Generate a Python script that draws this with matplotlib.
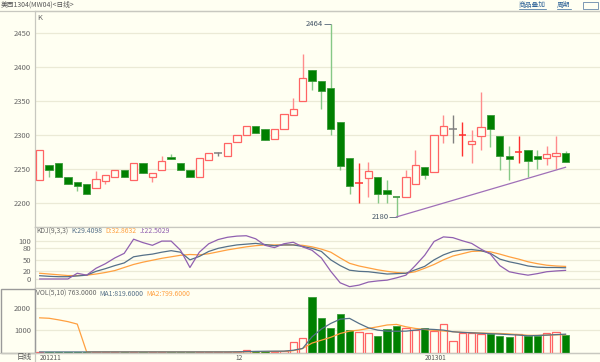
import matplotlib
matplotlib.use('Agg')
import matplotlib.pyplot as plt
from matplotlib.patches import Rectangle

plt.rcParams['font.family'] = ['Noto Sans CJK SC', 'DejaVu Sans']

# candles (daily)
opens = [2235, 2256, 2260, 2239, 2231, 2229, 2223, 2233, 2239, 2249,
         2234, 2260, 2239, 2249, 2268, 2260, 2249, 2239, 2264, 2274,
         2270, 2290, 2300, 2314, 2309, 2295, 2309, 2330, 2350, 2396,
         2380, 2369, 2320, 2266, 2230, 2237, 2239, 2219, 2209, 2209,
         2229, 2253, 2246, 2300, 2309, 2300, 2287, 2299, 2330, 2299,
         2269, 2275, 2279, 2269, 2267, 2269, 2274]
closes = [2279, 2249, 2239, 2229, 2225, 2213, 2236, 2241, 2249, 2238,
          2260, 2245, 2244, 2262, 2265, 2249, 2238, 2266, 2274, 2274,
          2289, 2300, 2314, 2304, 2293, 2309, 2331, 2339, 2385, 2380,
          2365, 2309, 2255, 2226, 2230, 2248, 2214, 2214, 2209, 2239,
          2256, 2241, 2300, 2314, 2309, 2300, 2292, 2312, 2309, 2270,
          2265, 2275, 2262, 2265, 2272, 2274, 2261]
highs = [2279, 2256, 2260, 2239, 2231, 2229, 2248, 2241, 2249, 2249,
         2260, 2260, 2244, 2270, 2272, 2260, 2249, 2266, 2274, 2275,
         2289, 2300, 2314, 2314, 2309, 2309, 2331, 2355, 2419, 2396,
         2380, 2464, 2320, 2266, 2260, 2261, 2239, 2234, 2209, 2249,
         2279, 2253, 2300, 2330, 2330, 2320, 2308, 2364, 2330, 2299,
         2284, 2299, 2279, 2279, 2284, 2299, 2277]
lows = [2235, 2239, 2239, 2229, 2218, 2213, 2223, 2229, 2239, 2238,
        2234, 2245, 2232, 2249, 2265, 2249, 2238, 2239, 2264, 2270,
        2270, 2290, 2300, 2304, 2293, 2295, 2309, 2330, 2350, 2366,
        2339, 2300, 2249, 2214, 2200, 2209, 2200, 2200, 2180, 2209,
        2229, 2236, 2246, 2289, 2289, 2270, 2260, 2279, 2283, 2249,
        2234, 2260, 2239, 2250, 2256, 2250, 2261]
# open == close days: colour used by the terminal
doji_kind = {19: 'gray', 34: 'red', 38: 'green', 44: 'gray', 45: 'red', 51: 'red'}
vol_red = {19, 34, 44, 45, 51}

volumes = [30, 25, 30, 20, 25, 30, 20, 25, 20, 25,
           30, 20, 25, 20, 25, 20, 25, 30, 25, 20,
           30, 25, 90, 60, 70, 40, 50, 450, 630, 2466,
           1540, 1090, 1704, 1000, 910, 850, 717, 1058, 1165, 1076,
           987, 1076, 956, 1256, 493, 879, 879, 820, 820, 717,
           673, 807, 747, 747, 865, 897, 763]
vol_ma1 = [25, 25, 25, 25, 25, 25, 25, 25, 25, 25,
           25, 25, 25, 25, 25, 25, 25, 25, 25, 25,
           25, 30, 40, 50, 55, 60, 60, 100, 180, 700,
           1050, 1300, 1490, 1525, 1300, 1103, 1000, 955, 950, 955,
           1000, 1050, 1030, 1000, 926, 900, 880, 860, 840, 822,
           800, 780, 747, 760, 777, 800, 819.6]
vol_ma2 = [1550, 1530, 1460, 1380, 1270, 25, 25, 25, 25, 25,
           25, 25, 25, 25, 25, 25, 25, 25, 25, 25,
           25, 25, 30, 35, 40, 45, 50, 80, 180, 420,
           550, 680, 850, 955, 1000, 1076, 1150, 1230, 1256, 1150,
           1076, 1030, 987, 960, 930, 900, 890, 870, 860, 852,
           830, 800, 770, 765, 780, 790, 799.6]

kdj_k = [8.6, 7, 6, 6, 8, 10, 20, 27, 35, 42,
         58, 62, 65, 70, 74, 70, 50, 59, 72, 80,
         85, 89, 91, 93, 90, 87, 89, 89, 85, 80,
         72, 50, 35, 23, 20, 19, 16, 13, 14, 15,
         24, 33, 50, 63, 72, 76, 77, 74, 67, 52,
         45, 40, 34, 31, 30, 30, 29.4098]
kdj_d = [15, 13, 11, 9, 9, 10, 13, 17, 22, 30,
         38, 44, 49, 54, 58, 62, 64, 63, 66, 71,
         76, 80, 84, 87, 89, 89, 89, 89, 88, 84,
         78, 70, 55, 41, 34, 29, 24, 20, 17, 15,
         19, 28, 38, 50, 60, 66, 72, 73, 71, 65,
         58, 52, 45, 40, 36, 34, 32.8632]
kdj_j = [0, 0, 0, 0, 15, 10, 28, 40, 55, 67,
         104, 95, 88, 99, 99, 75, 30, 70, 92, 103,
         109, 112, 113, 105, 88, 82, 92, 96, 84, 75,
         55, 20, -10, -20, -16, -8, -5, -3, 3, 10,
         35, 62, 98, 110, 108, 100, 93, 78, 65, 35,
         19, 14, 10, 14, 19, 21, 22.5029]

trend_x = [38, 56]
trend_y = [2180, 2253]
date_labels = [(0, '201211'), (20.8, '12'), (41, '201301')]

price_ticks = [2200, 2250, 2300, 2350, 2400, 2450]
kdj_ticks = [0, 20, 50, 80, 100]
vol_ticks = [1000, 2000]

# colours
bg = '#fffff2'
grid_c = '#ebead6'
frame_c = '#c8c8c0'
red = '#ff6464'
red_wick = '#ff8c8c'
green = '#008000'
green_wick = '#86c886'
txt_c = '#666666'
k_c = '#557088'
d_c = '#ffa040'
j_c = '#9060b0'

W, H = 600, 362


def fx(x):
    return x / W


def fy(y):
    return 1 - y / H


fig = plt.figure(figsize=(6, 3.62), dpi=100, facecolor=bg)

left_px = 34.5
xlo = -(39.7 - left_px) / 9.39
xhi = xlo + (W - left_px) / 9.39
fs = 5.5
fs_small = 4.9


def setup(ax, ylim, ticks):
    ax.set_facecolor(bg)
    ax.set_xlim(xlo, xhi)
    ax.set_ylim(*ylim)
    ax.set_yticks(ticks)
    ax.set_xticks([])
    ax.tick_params(axis='y', length=0, pad=2.5, labelsize=fs, labelcolor=txt_c)
    for t in ticks:
        ax.axhline(t, color=grid_c, lw=0.9, zorder=0)
    ax.spines['right'].set_visible(False)
    for s in ['left', 'top', 'bottom']:
        ax.spines[s].set_color(frame_c)
        ax.spines[s].set_linewidth(0.9)


# ---- price panel ----
ax_k = fig.add_axes([fx(left_px), fy(226.7), 1 - fx(left_px), (226.7 - 11) / H])
setup(ax_k, (2165.6, 2482.8), price_ticks)

n = len(opens)
idx = list(range(n))
bw = 0.78
for i in idx:
    o, c, h, l = opens[i], closes[i], highs[i], lows[i]
    if i in doji_kind:
        kc = {'red': '#ff3030', 'green': '#2a8a2a', 'gray': '#808080'}[doji_kind[i]]
        ax_k.vlines(i, l, h, color=kc if doji_kind[i] != 'green' else green_wick, lw=1.0, zorder=2)
        ax_k.hlines(o, i - bw / 2, i + bw / 2, color=kc, lw=1.1, zorder=3)
    elif c > o:
        ax_k.vlines(i, l, o, color=red_wick, lw=1.0, zorder=2)
        ax_k.vlines(i, c, h, color=red_wick, lw=1.0, zorder=2)
        ax_k.bar(i, c - o, bottom=o, width=bw, facecolor=bg, edgecolor=red, lw=0.9, zorder=3)
    else:
        ax_k.vlines(i, l, h, color=green_wick, lw=1.0, zorder=2)
        ax_k.bar(i, o - c, bottom=c, width=bw, facecolor=green, edgecolor='#3a9a3a', lw=0.6, zorder=3)

ax_k.plot(trend_x, trend_y, color='#a070b8', lw=0.9, zorder=4)

# high / low markers
hi_i = highs.index(max(highs))
lo_i = lows.index(min(lows))
ax_k.hlines(max(highs), hi_i - 0.75, hi_i, color='#556677', lw=0.6)
ax_k.text(hi_i - 0.8, max(highs), str(max(highs)), ha='right', va='center', fontsize=fs, color='#445566')
ax_k.hlines(min(lows), lo_i - 0.75, lo_i, color='#556677', lw=0.6)
ax_k.text(lo_i - 0.8, min(lows), str(min(lows)), ha='right', va='center', fontsize=fs, color='#445566')
ax_k.text(0.004, 0.985, 'K', transform=ax_k.transAxes, ha='left', va='top', fontsize=fs, color=txt_c)

# ---- KDJ panel ----
ax_j = fig.add_axes([fx(left_px), fy(288.3), 1 - fx(left_px), (288.3 - 226.7) / H])
setup(ax_j, (-24.3, 136.6), kdj_ticks)
ax_j.plot(idx, kdj_d, color=d_c, lw=0.9)
ax_j.plot(idx, kdj_k, color=k_c, lw=0.9)
ax_j.plot(idx, kdj_j, color=j_c, lw=0.9)

# ---- volume panel ----
ax_v = fig.add_axes([fx(left_px), fy(352.5), 1 - fx(left_px), (352.5 - 288.3) / H])
setup(ax_v, (0, 2870), vol_ticks)
for i in idx:
    up = closes[i] > opens[i] or i in vol_red
    if up:
        ax_v.bar(i, volumes[i], width=bw, facecolor=bg, edgecolor=red, lw=0.9, zorder=3)
    else:
        ax_v.bar(i, volumes[i], width=bw, facecolor=green, edgecolor='#3a9a3a', lw=0.6, zorder=3)
ax_v.plot(idx, vol_ma2, color=d_c, lw=0.9, zorder=4)
ax_v.plot(idx, vol_ma1, color=k_c, lw=0.9, zorder=4)

# left box of the active panel
fig.patches.append(Rectangle((fx(0.5), fy(352.5)), fx(34), (352.5 - 288.8) / H,
                             transform=fig.transFigure, fill=False,
                             edgecolor='#9a9a9a', lw=1.0))


# panel captions: pieces chained one after another
def chain(x_px, y_px, parts, gap=3):
    t = fig.text(fx(x_px), fy(y_px), parts[0][0], fontsize=fs_small,
                 color=parts[0][1], va='center', ha='left')
    for s, col in parts[1:]:
        t = plt.annotate(s, xy=(1, 0.5), xycoords=t, xytext=(gap, 0),
                         textcoords='offset pixels', fontsize=fs_small, color=col,
                         va='center', ha='left', annotation_clip=False)


chain(36, 231.5, [('KDJ(9,3,3)', txt_c), ('K:%.4f' % kdj_k[-1], k_c),
                  ('D:%.4f' % kdj_d[-1], d_c), ('J:%.4f' % kdj_j[-1], j_c)])
chain(36, 294, [('VOL(5,10) %.4f' % volumes[-1], txt_c),
                ('MA1:%.4f' % vol_ma1[-1], k_c), ('MA2:%.4f' % vol_ma2[-1], d_c)])

# ---- title bar and date axis ----
fig.text(fx(1), fy(5), '美西1304(MW04)<日线>', fontsize=fs_small, color='#555555', va='center', ha='left')
for x, s in [(519, '商品叠加'), (557, '周期')]:
    fig.text(fx(x), fy(5), s, fontsize=fs_small, color='#336699', va='center', ha='left')
fig.lines.append(plt.Line2D([fx(519), fx(546)], [fy(9), fy(9)], transform=fig.transFigure, color='#336699', lw=0.5))
fig.lines.append(plt.Line2D([fx(557), fx(571)], [fy(9), fy(9)], transform=fig.transFigure, color='#336699', lw=0.5))
fig.patches.append(Rectangle((fx(583), fy(9)), fx(15), 7 / H, transform=fig.transFigure,
                             fill=False, edgecolor='#6688aa', lw=0.6))
fig.lines.append(plt.Line2D([0, 1], [fy(10.8), fy(10.8)], transform=fig.transFigure, color=frame_c, lw=0.9))

fig.text(fx(32), fy(357.5), '日线', fontsize=fs, color='#555555', va='center', ha='right')
for xi, s in date_labels:
    xp = left_px + (xi - xlo) * 9.39
    fig.text(fx(xp), fy(357.5), s, fontsize=fs - 0.8, color='#555555', va='center', ha='left')
fig.lines.append(plt.Line2D([0, 1], [fy(352.8), fy(352.8)], transform=fig.transFigure, color=frame_c, lw=0.9))
fig.lines.append(plt.Line2D([fx(left_px), fx(left_px)], [fy(352.8), fy(362)], transform=fig.transFigure, color=frame_c, lw=0.9))

fig.savefig('out.png', dpi=100, facecolor=bg)
